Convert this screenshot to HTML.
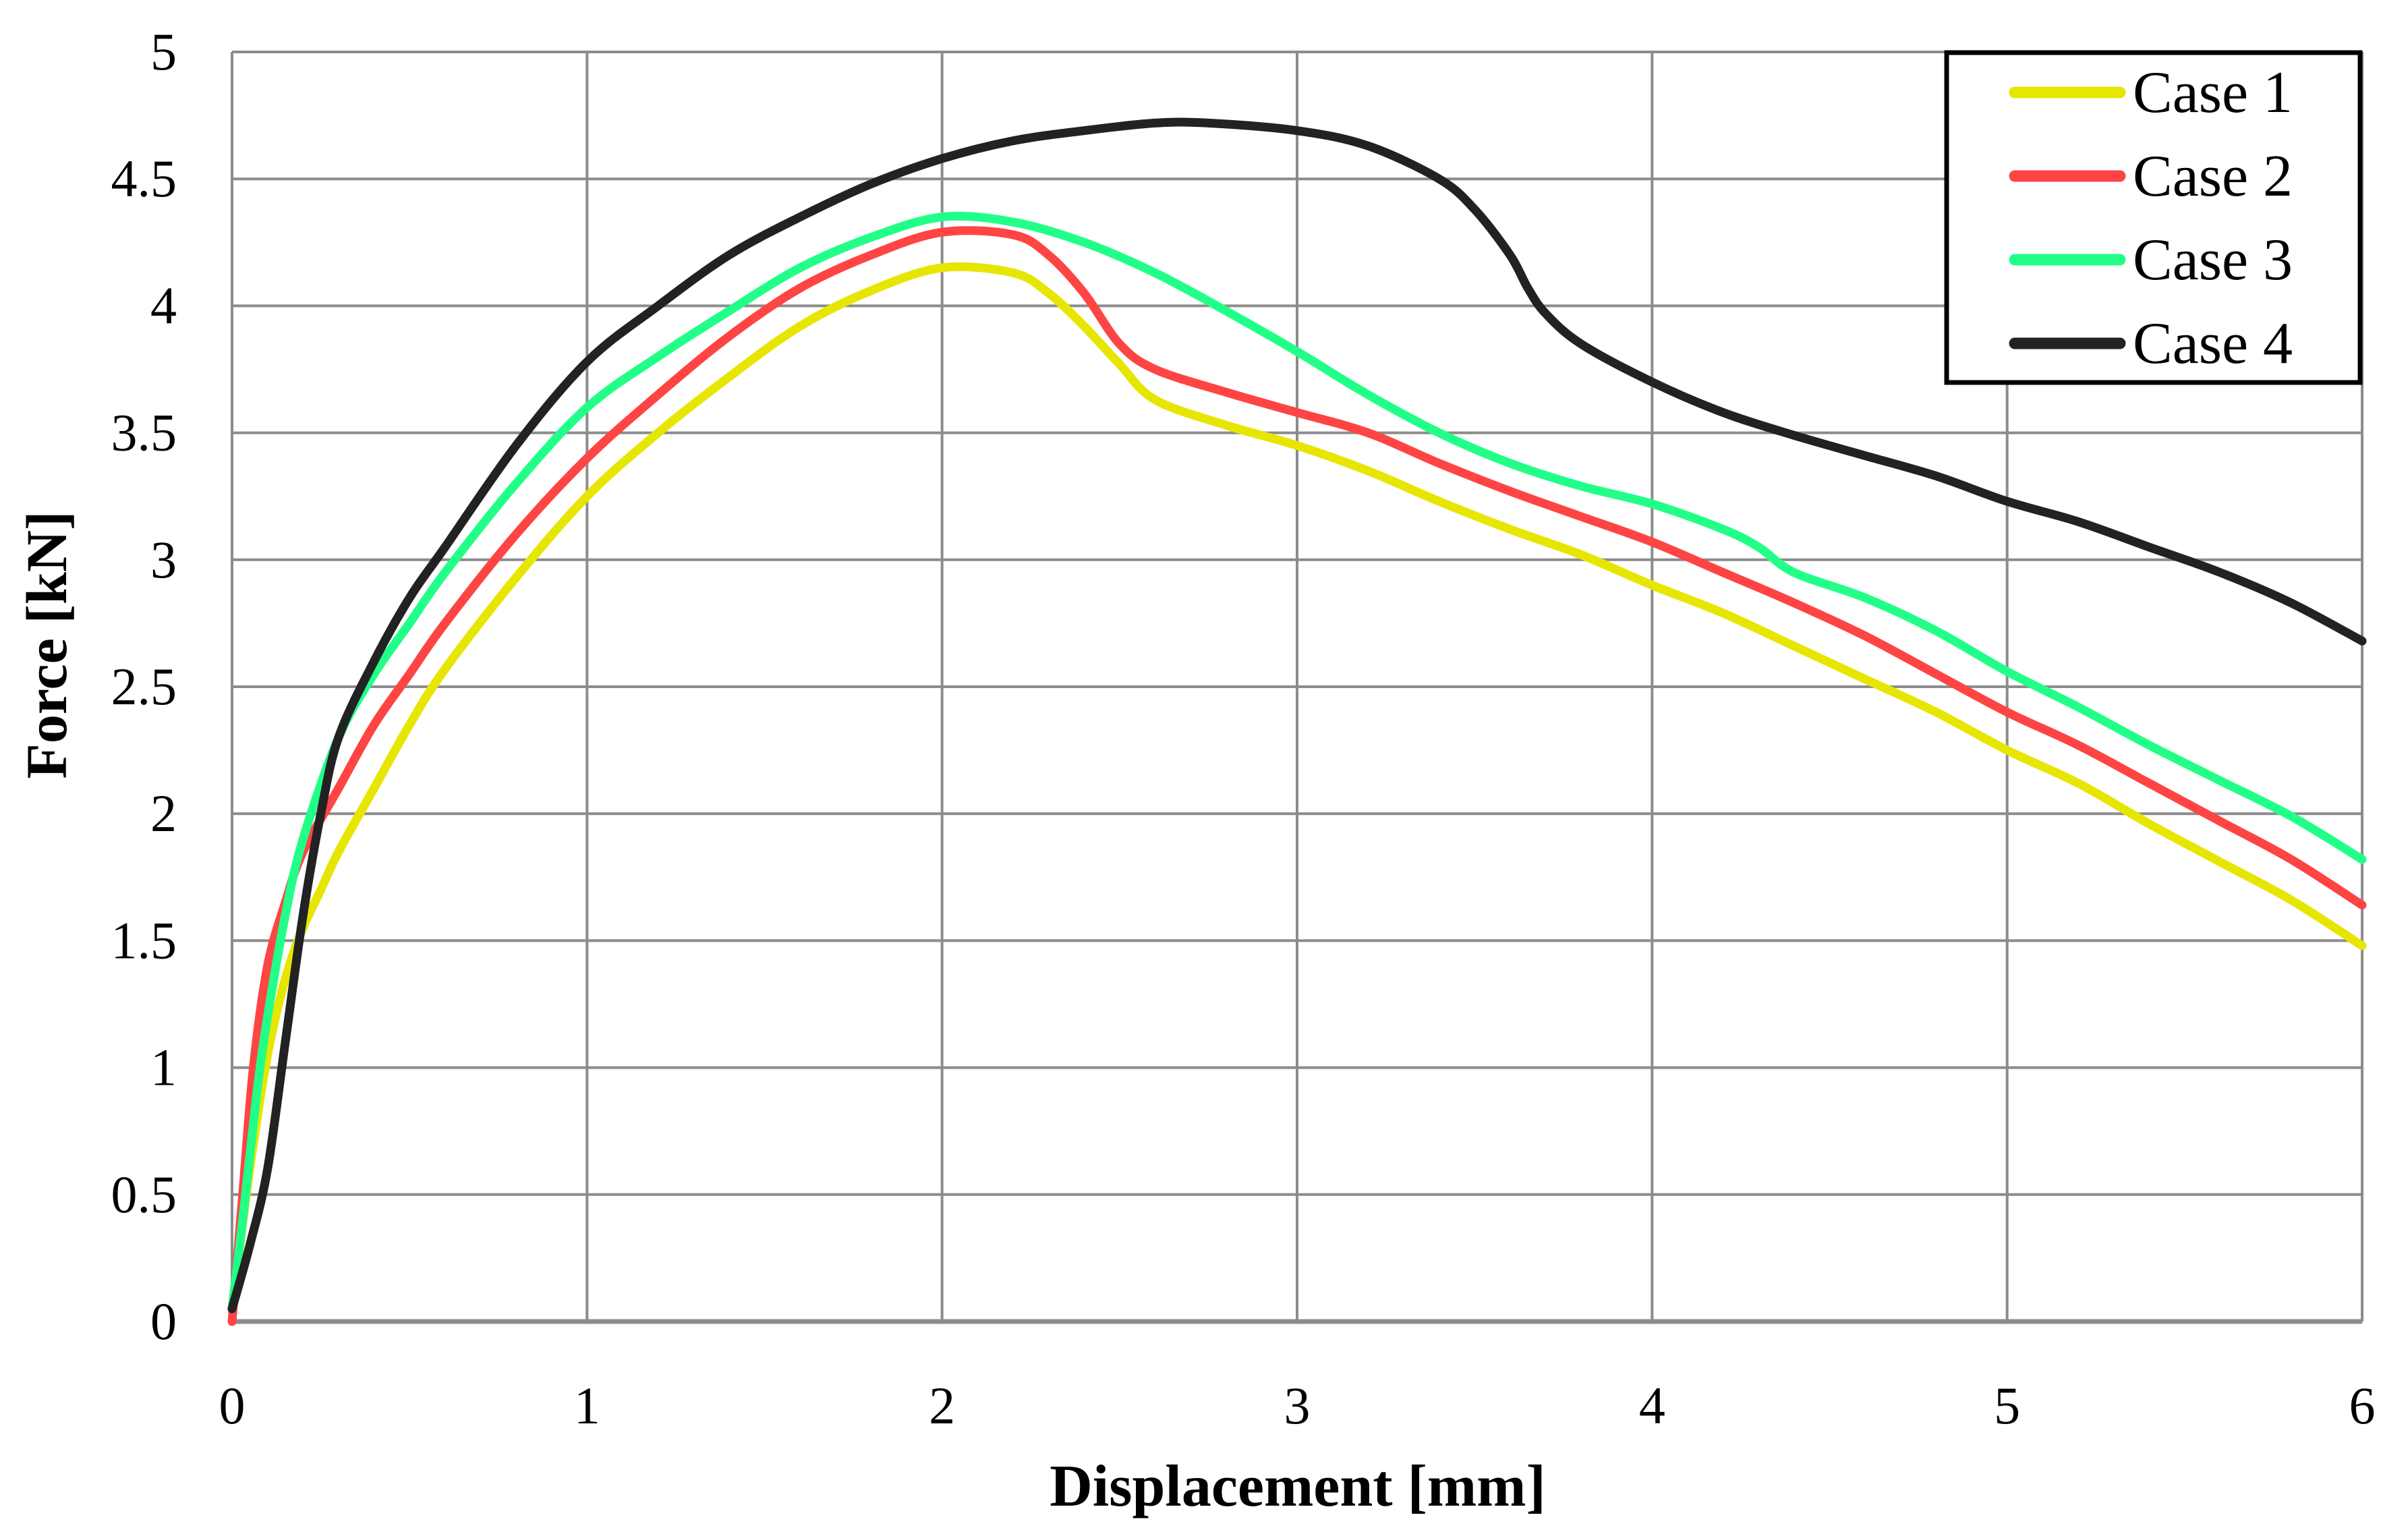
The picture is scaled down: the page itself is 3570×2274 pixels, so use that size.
<!DOCTYPE html>
<html><head><meta charset="utf-8"><style>
html,body{margin:0;padding:0;background:#fff;}
svg{display:block;}
text{font-family:"Liberation Serif",serif;fill:#000;}
</style></head><body>
<svg id="chart" width="3570" height="2274" viewBox="0 0 3570 2274" xmlns="http://www.w3.org/2000/svg">
<g id="grid"></g>
<g id="series"></g>
<g id="ticks"></g>
<text x="1924" y="2232" font-size="88" font-weight="bold" text-anchor="middle">Displacement [mm]</text>
<text transform="translate(98,956) rotate(-90)" font-size="86" font-weight="bold" text-anchor="middle">Force [kN]</text>
<g id="legend">
<rect x="2886" y="78" width="613" height="489" fill="#fff" stroke="#000" stroke-width="7"/>
</g>
</svg>
<script>
const xTicks=[0,1,2,3,4,5,6];
const yTicks=[0,0.5,1,1.5,2,2.5,3,3.5,4,4.5,5];
const yTickLabels=["0","0.5","1","1.5","2","2.5","3","3.5","4","4.5","5"];
const seriesNames=["Case 1","Case 2","Case 3","Case 4"];
const seriesColors=["#e6e600","#ff4444","#22ff88","#222222"];
const x1=[0,0.05,0.1,0.15,0.2,0.25,0.3,0.4,0.5,0.6,0.8,1.0,1.2,1.4,1.6,1.8,2.0,2.2,2.3,2.4,2.5,2.6,2.8,3.0,3.2,3.4,3.6,3.8,4.0,4.2,4.4,4.6,4.8,5.0,5.2,5.4,5.6,5.8,6.0];
const y1=[0.05,0.6,1.05,1.35,1.55,1.7,1.85,2.1,2.35,2.57,2.93,3.25,3.5,3.72,3.92,4.06,4.15,4.13,4.05,3.92,3.77,3.63,3.53,3.45,3.35,3.23,3.12,3.02,2.9,2.79,2.66,2.53,2.4,2.25,2.12,1.96,1.81,1.66,1.48];
const x2=[0,0.03,0.06,0.1,0.15,0.2,0.3,0.4,0.5,0.6,0.8,1.0,1.2,1.4,1.6,1.8,2.0,2.2,2.3,2.4,2.5,2.6,2.8,3.0,3.2,3.4,3.6,3.8,4.0,4.2,4.4,4.6,4.8,5.0,5.2,5.4,5.6,5.8,6.0];
const y2=[0,0.5,1.0,1.4,1.65,1.85,2.1,2.35,2.55,2.75,3.1,3.4,3.65,3.88,4.07,4.2,4.29,4.28,4.2,4.05,3.85,3.75,3.66,3.58,3.5,3.38,3.27,3.17,3.07,2.95,2.83,2.7,2.55,2.4,2.27,2.12,1.97,1.82,1.64];
const x3=[0,0.03,0.07,0.1,0.15,0.2,0.3,0.4,0.5,0.6,0.8,1.0,1.2,1.4,1.6,1.8,2.0,2.2,2.4,2.6,2.8,3.0,3.2,3.4,3.6,3.8,4.0,4.2,4.3,4.4,4.6,4.8,5.0,5.2,5.4,5.6,5.8,6.0];
const y3=[0.05,0.4,0.9,1.2,1.6,1.9,2.3,2.55,2.75,2.95,3.3,3.6,3.8,3.98,4.15,4.27,4.35,4.33,4.25,4.13,3.98,3.82,3.65,3.5,3.38,3.29,3.22,3.12,3.05,2.95,2.85,2.72,2.56,2.42,2.27,2.13,1.99,1.82];
const x4=[0,0.05,0.1,0.15,0.2,0.25,0.3,0.4,0.5,0.6,0.8,1.0,1.2,1.4,1.6,1.8,2.0,2.2,2.4,2.6,2.75,3.0,3.2,3.4,3.5,3.6,3.65,3.7,3.8,4.0,4.2,4.4,4.6,4.8,5.0,5.2,5.4,5.6,5.8,6.0];
const y4=[0.05,0.3,0.6,1.1,1.6,2.0,2.3,2.6,2.85,3.05,3.45,3.78,4.0,4.2,4.35,4.48,4.58,4.65,4.69,4.72,4.72,4.69,4.63,4.5,4.38,4.2,4.07,3.97,3.85,3.7,3.58,3.49,3.41,3.33,3.23,3.15,3.05,2.95,2.83,2.68];

const L=344,R=3502,T=77,B=1959;
const sx=v=>L+(R-L)*v/6;
const sy=v=>B-(B-T)*v/5;
const NS="http://www.w3.org/2000/svg";
const grid=document.getElementById('grid');
const ticks=document.getElementById('ticks');
xTicks.forEach(v=>{
  const l=document.createElementNS(NS,'line');
  
  
  l.setAttribute('x1',sx(v));l.setAttribute('x2',sx(v));l.setAttribute('y1',T);l.setAttribute('y2',B);
  l.setAttribute('stroke','#8c8c8c');l.setAttribute('stroke-width',4);
  grid.appendChild(l);
  const t=document.createElementNS(NS,'text');
  
  
  t.setAttribute('x',sx(v));t.setAttribute('y',2110);t.setAttribute('font-size',78);t.setAttribute('text-anchor','middle');
  t.textContent=String(v);ticks.appendChild(t);
});
yTicks.forEach((v,i)=>{
  const l=document.createElementNS(NS,'line');
  
  
  l.setAttribute('x1',L);l.setAttribute('x2',R);l.setAttribute('y1',sy(v));l.setAttribute('y2',sy(v));
  l.setAttribute('stroke','#8c8c8c');l.setAttribute('stroke-width',v===0?7:4);
  grid.appendChild(l);
  const t=document.createElementNS(NS,'text');
  
  
  t.setAttribute('x',262);t.setAttribute('y',sy(v)+26);t.setAttribute('font-size',78);t.setAttribute('text-anchor','end');
  t.textContent=yTickLabels[i];ticks.appendChild(t);
});
function smoothPath(pts){
  let d='M'+pts[0][0]+','+pts[0][1];
  for(let i=0;i<pts.length-1;i++){
    const p0=pts[Math.max(0,i-1)],p1=pts[i],p2=pts[i+1],p3=pts[Math.min(pts.length-1,i+2)];
    const c1x=p1[0]+(p2[0]-p0[0])/6,c1y=p1[1]+(p2[1]-p0[1])/6;
    const c2x=p2[0]-(p3[0]-p1[0])/6,c2y=p2[1]-(p3[1]-p1[1])/6;
    d+=' C'+c1x+','+c1y+' '+c2x+','+c2y+' '+p2[0]+','+p2[1];
  }
  return d;
}
const xs=[x1,x2,x3,x4],ys=[y1,y2,y3,y4];
const sg=document.getElementById('series');
xs.forEach((xa,k)=>{
  const p=document.createElementNS(NS,'path');
  
  
  p.setAttribute('d',smoothPath(xa.map((x,i)=>[sx(x),sy(ys[k][i])])));
  p.setAttribute('fill','none');p.setAttribute('stroke',seriesColors[k]);p.setAttribute('stroke-width',13);
  p.setAttribute('stroke-linejoin','round');p.setAttribute('stroke-linecap','round');
  sg.appendChild(p);
});
const lg=document.getElementById('legend');
seriesNames.forEach((n,k)=>{
  const cy=137+k*124;
  const l=document.createElementNS(NS,'line');
  
  
  l.setAttribute('x1',2987);l.setAttribute('x2',3143);l.setAttribute('y1',cy);l.setAttribute('y2',cy);
  l.setAttribute('stroke',seriesColors[k]);l.setAttribute('stroke-width',17);l.setAttribute('stroke-linecap','round');
  lg.appendChild(l);
  const t=document.createElementNS(NS,'text');
  
  
  t.setAttribute('x',3162);t.setAttribute('y',cy+29);t.setAttribute('font-size',88);
  t.textContent=n;lg.appendChild(t);
});
</script>
</body></html>
